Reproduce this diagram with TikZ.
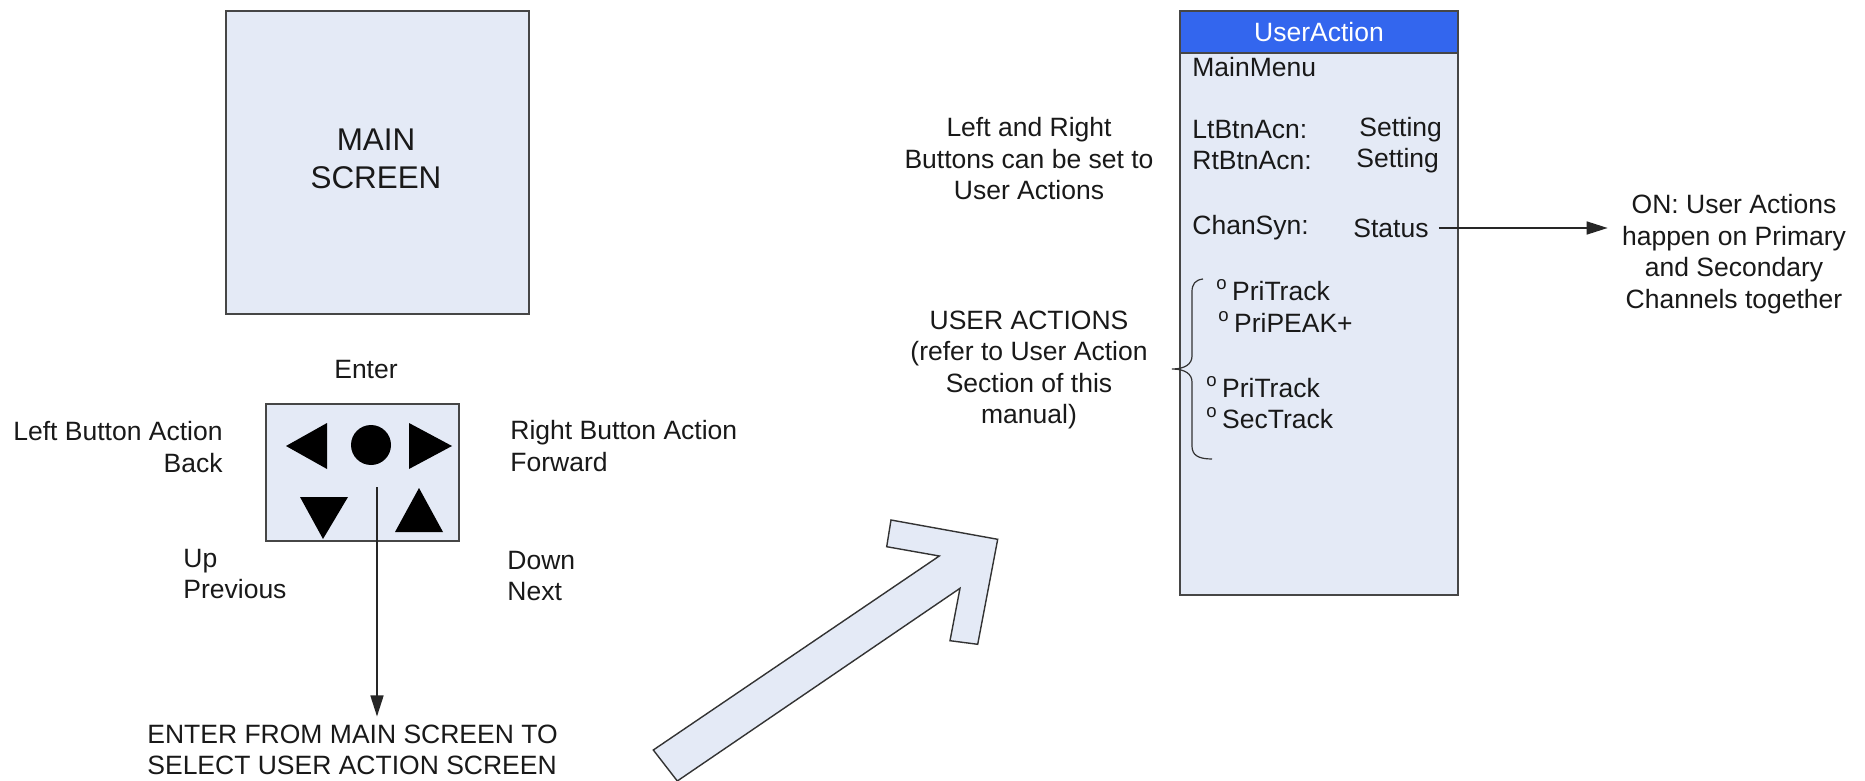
\documentclass[tikz,border=0pt]{standalone}
\usepackage{fontspec}
\setmainfont{Liberation Sans}
\usetikzlibrary{arrows.meta}
\definecolor{boxfill}{RGB}{228,234,246}
\definecolor{hdrblue}{RGB}{51,102,238}
\definecolor{edgegray}{RGB}{70,70,70}
\definecolor{ink}{RGB}{25,25,25}
\begin{document}
\begin{tikzpicture}[x=0.5pt,y=-0.5pt,
  lbl/.style={inner sep=0pt, text=ink, font=\fontsize{13.25}{15.75}\selectfont},
  screenbox/.style={draw=edgegray, fill=boxfill, line width=1pt, inner sep=0pt, anchor=north west},
  glyph/.style={fill=black, draw=none},
  conn/.style={draw=black!85, line width=0.8pt, -{Triangle[length=10.5pt,width=6.5pt]}},
  bigarrow/.style={draw=black!80, fill=boxfill, line width=0.7pt},
  brace/.style={draw=black!80, line width=0.6pt},
]
\useasboundingbox (0,0) rectangle (1865,781);
\fill[white] (0,0) rectangle (1865,781);

% ---------- main screen ----------
\node[screenbox, minimum width=151.5pt, minimum height=151.5pt] (main) at (225,10) {};
\node[lbl, font=\fontsize{15.7}{19}\selectfont, align=center] (maintext) at (376,159) {MAIN\\SCREEN};

% ---------- button pad ----------
\node[lbl] (enterlbl) at (366,370) {Enter};
\node[screenbox, minimum width=96.5pt, minimum height=68.5pt] (pad) at (265,403) {};
\fill[glyph] (286,446) -- (327,423) -- (327,469) -- cycle;
\node[circle, glyph, minimum size=20pt, inner sep=0pt] (enterbtn) at (371,445) {};
\fill[glyph] (409,423) -- (409,469) -- (452,446) -- cycle;
\fill[glyph] (300,497) -- (348,497) -- (323,539) -- cycle;
\fill[glyph] (395,532) -- (443,532) -- (419,488) -- cycle;

\node[lbl, align=right, anchor=east] (leftlbl) at (223,447) {Left Button Action\\Back};
\node[lbl, align=left, anchor=west] (rightlbl) at (510,446) {Right Button Action\\Forward};
\node[lbl, align=left, anchor=west] (uplbl) at (183,574) {Up\\Previous};
\node[lbl, align=left, anchor=west] (downlbl) at (507,576) {Down\\Next};

\node[lbl, align=left, anchor=west] (entertext) at (147,750) {ENTER FROM MAIN SCREEN TO\\SELECT USER ACTION SCREEN};
\coordinate (enterstart) at (377,487);
\draw[conn, shorten >=4pt] (enterstart) -- (enterstart |- entertext.north);

% ---------- big slanted arrow ----------
\draw[bigarrow] (653.3,750) -- (939.3,556) -- (886.7,546.7) -- (891,520) -- (997.7,539.3)
  -- (977.7,644.3) -- (950,640.7) -- (960,588.3) -- (677.3,781) -- cycle;

% ---------- UserAction screen ----------
\node[screenbox, minimum width=139pt, minimum height=292pt] (ua) at (1179,10) {};
\node[screenbox, fill=hdrblue, minimum width=139pt, minimum height=21pt] (uahead) at (1179,10) {};
\node[lbl, text=white] (uatitle) at (uahead.center) {UserAction};

\node[lbl, anchor=west] (mainmenu) at (1192,67) {MainMenu};
\node[lbl, anchor=west] (ltbtn) at (1192,130) {LtBtnAcn:};
\node[lbl, anchor=west] (ltset) at (1359,130) {Setting};
\node[lbl, anchor=west] (rtbtn) at (1192,161) {RtBtnAcn:};
\node[lbl, anchor=west] (rtset) at (1356,161) {Setting};
\node[lbl, anchor=west] (chansyn) at (1192,228) {ChanSyn:};
\node[lbl, anchor=west] (status) at (1353,228) {Status};

\node[lbl, anchor=west] (ua1) at (1216,290) {\textsuperscript{o}\,PriTrack};
\node[lbl, anchor=west] (ua2) at (1218,322) {\textsuperscript{o}\,PriPEAK+};
\node[lbl, anchor=west] (ua3) at (1206,387) {\textsuperscript{o}\,PriTrack};
\node[lbl, anchor=west] (ua4) at (1206,418) {\textsuperscript{o}\,SecTrack};

\draw[brace] (1203,279) .. controls (1195,280) and (1192,284) .. (1192,292)
  -- (1192,356) .. controls (1192,364) and (1185,369) .. (1172,369)
  .. controls (1185,369) and (1192,374) .. (1192,382)
  -- (1192,446) .. controls (1192,455) and (1198,459) .. (1212,459);

% ---------- side notes ----------
\node[lbl, align=center] (lrnote) at (1029,159) {Left and Right\\Buttons can be set to\\User Actions};
\node[lbl, align=center] (uanote) at (1029,370) {USER ACTIONS\\(refer to User Action\\Section of this\\manual)};
\node[lbl, align=center] (onnote) at (1734,254) {ON: User Actions\\happen on Primary\\and Secondary\\Channels together};
\draw[conn, shorten <=5pt, shorten >=7pt] (status.east) -- (onnote.west |- status.east);
\end{tikzpicture}
\end{document}
